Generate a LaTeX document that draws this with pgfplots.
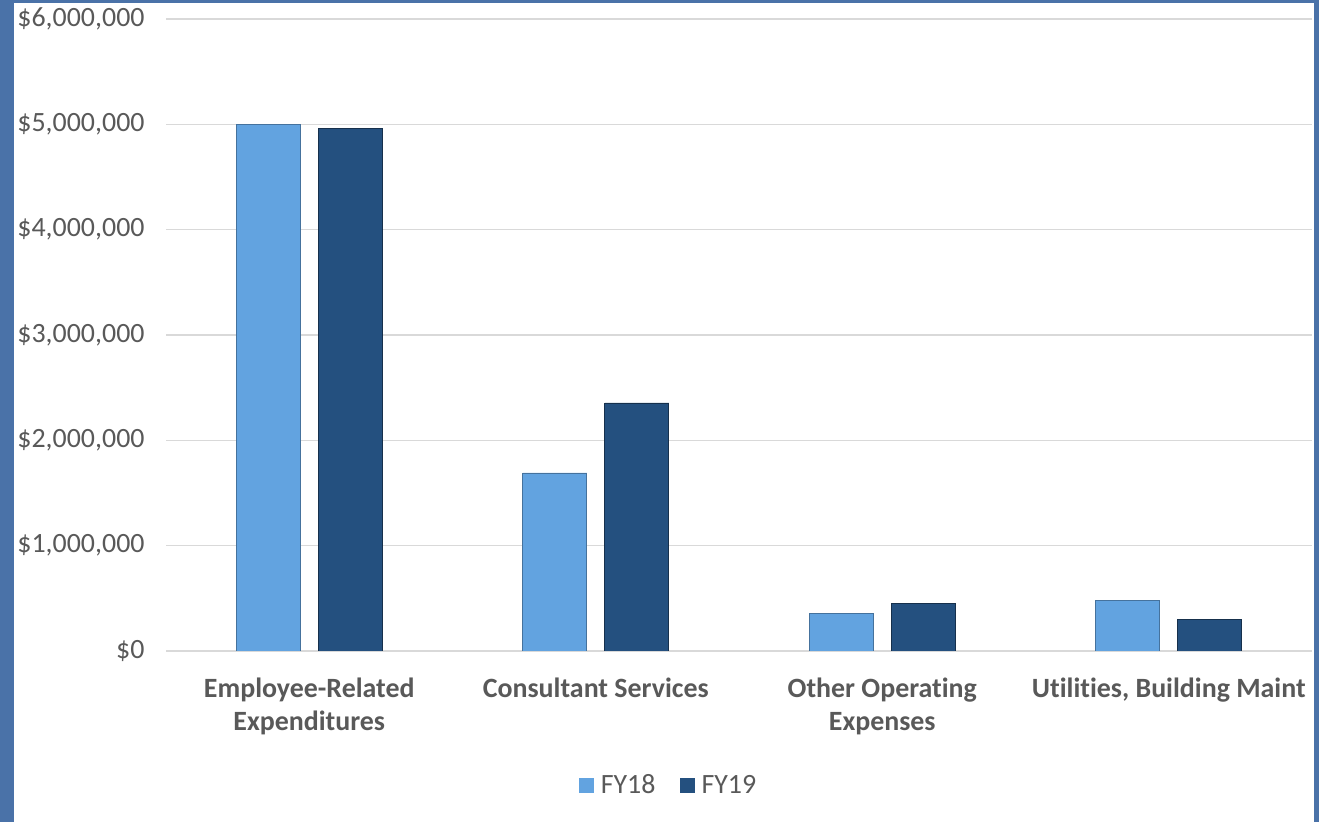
\documentclass[border=0pt]{standalone}
\usepackage{pgfplots}
\pgfplotsset{compat=1.18}
\usepackage{fontspec}
\setmainfont{Carlito}[Ligatures=NoCommon]
\definecolor{frameblue}{HTML}{4A72A8}
\definecolor{fyone}{HTML}{62A3E0}
\definecolor{fytwo}{HTML}{24507F}
\definecolor{txtgray}{HTML}{595959}
\definecolor{gridgray}{HTML}{D9D9D9}

\begin{document}
\begin{tikzpicture}[x=1bp,y=1bp]
\fill[frameblue] (0,0) rectangle (1319,822);
\fill[white] (14,0) rectangle (1314,819);
\begin{axis}[
  at={(166bp,171bp)}, anchor=south west,
  width=1146bp, height=632bp, scale only axis,
  ybar=18bp, bar width=64bp,
  xmin=-0.5, xmax=3.5, ymin=0, ymax=6000000,
  xtick={0,1,2,3},
  xticklabels={{Employee-Related\\Expenditures},{Consultant Services},{Other Operating\\Expenses},{Utilities, Building Maint}},
  ytick={0,1000000,2000000,3000000,4000000,5000000,6000000},
  ymajorgrids, grid style={gridgray, line width=1.2bp},
  axis line style={draw=none}, major tick length=0,
  scaled y ticks=false,
  yticklabel={\$\pgfmathprintnumber[assume math mode=true,fixed,precision=0,1000 sep={,}]{\tick}},
  ticklabel style={font=\fontsize{28}{34}\selectfont, text=txtgray},
  yticklabel style={xshift=-18bp},
  xticklabel style={font=\fontsize{28}{34}\selectfont\bfseries, align=center, yshift=-23bp},
  legend style={at={(0.4385,-0.212)}, anchor=center, draw=none, fill=none,
    legend columns=-1, font=\fontsize{28}{34}\selectfont, text=txtgray,
    /tikz/every odd column/.append style={column sep=5bp},
    /tikz/every even column/.append style={column sep=22bp}},
  legend image code/.code={\path[#1,draw=none] (0bp,-8bp) rectangle (15bp,7bp);},
]
\addplot[fill=fyone, draw=fyone!70!black, line width=0.6bp]
  coordinates {(0,5000000) (1,1690000) (2,360000) (3,480000)};
\addplot[fill=fytwo, draw=fytwo!60!black, line width=0.6bp]
  coordinates {(0,4960000) (1,2355000) (2,450000) (3,300000)};
\legend{FY18, FY19}
\end{axis}
\end{tikzpicture}
\end{document}
